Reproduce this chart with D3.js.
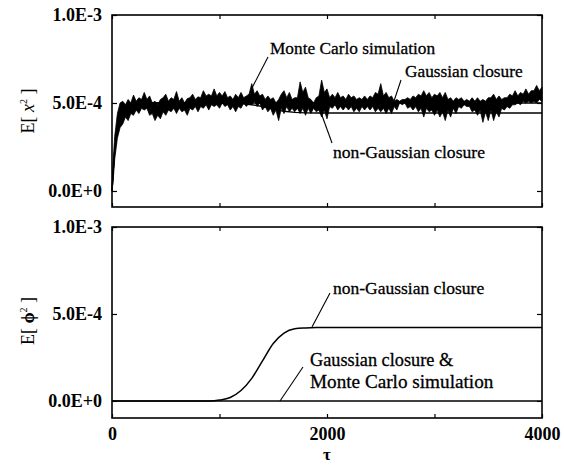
<!DOCTYPE html>
<html>
<head>
<meta charset="utf-8">
<script src="https://cdn.jsdelivr.net/npm/d3@7"></script>
<style>
  body { margin: 0; background: #fff; }
  svg text { font-family: "Liberation Serif", "Times New Roman", serif; fill: #000; }
  .tick text { font-weight: bold; font-size: 18px; }
  .note { stroke: #000; stroke-width: 0.3; }
</style>
</head>
<body>
<svg id="chart" width="564" height="466"></svg>
<script>
// values are in units of 1e-4
const tickTau = [0, 1000, 2000, 3000, 4000];
const tickTauLabels = ["0", "", "2000", "", "4000"];
const tickE = [0, 5, 10];
const tickELabels = ["0.0E+0", "5.0E-4", "1.0E-3"];

// Monte Carlo band (upper / lower envelope), top panel
const mcTau = [0, 10, 25, 50, 75, 100, 125, 150, 175, 200, 225, 250, 275, 300, 325, 350, 375, 400, 425, 450,
  475, 500, 525, 550, 575, 600, 625, 650, 675, 700, 725, 750, 775, 800, 825, 850, 875, 900, 925, 950,
  975, 1000, 1025, 1050, 1075, 1100, 1125, 1150, 1175, 1200, 1225, 1250, 1275, 1300, 1325, 1350, 1375, 1400,
  1425, 1450, 1475, 1500, 1525, 1550, 1575, 1600, 1625, 1650, 1675, 1700, 1725, 1750, 1775, 1800, 1825,
  1850, 1875, 1900, 1925, 1950, 1975, 2000, 2025, 2050, 2075, 2100, 2125, 2150, 2175, 2200, 2225, 2250,
  2275, 2300, 2325, 2350, 2375, 2400, 2425, 2450, 2475, 2500, 2525, 2550, 2575, 2600, 2625, 2650, 2675,
  2700, 2725, 2750, 2775, 2800, 2825, 2850, 2875, 2900, 2925, 2950, 2975, 3000, 3025, 3050, 3075, 3100,
  3125, 3150, 3175, 3200, 3225, 3250, 3275, 3300, 3325, 3350, 3375, 3400, 3425, 3450, 3475, 3500, 3525,
  3550, 3575, 3600, 3625, 3650, 3675, 3700, 3725, 3750, 3775, 3800, 3825, 3850, 3875, 3900, 3925, 3950,
  3975, 4000];
const mcHigh = [0, 1.6, 3.1, 4.4, 5.0, 5.1, 4.9, 5.2, 5.0, 5.45, 5.1, 5.3, 5.2, 5.6, 5.2, 5.4, 5.0, 5.1, 4.9, 5.2,
  5.3, 5.5, 5.1, 5.3, 5.2, 5.65, 5.1, 5.3, 5.0, 5.25, 5.3, 5.5, 5.2, 5.35, 5.3, 5.7, 5.4, 5.5, 5.4, 5.8,
  5.4, 5.6, 5.4, 5.65, 5.3, 5.4, 5.2, 5.5, 5.3, 5.6, 5.3, 5.4, 5.5, 6.1, 5.5, 5.7, 5.4, 5.5,
  5.2, 5.4, 5.2, 5.3, 5.0, 5.2, 5.5, 5.7, 5.3, 5.6, 5.2, 5.3, 5.3, 6.2, 5.6, 5.9, 5.3,
  5.2, 5.0, 5.3, 5.4, 6.3, 5.6, 5.8, 5.3, 5.5, 5.3, 5.6, 5.3, 5.4, 5.2, 5.5, 5.3, 5.4,
  5.2, 5.3, 5.2, 5.4, 5.2, 5.4, 5.3, 5.6, 5.5, 6.1, 5.4, 5.6, 5.3, 5.4, 5.1, 5.2, 5.1,
  5.2, 5.2, 5.3, 5.2, 5.4, 5.3, 5.5, 5.4, 5.7, 5.4, 5.6, 5.3, 5.5, 5.4, 5.6, 5.3, 5.6,
  5.2, 5.3, 5.1, 5.3, 5.2, 5.3, 5.1, 5.2, 5.1, 5.3, 5.1, 5.3, 5.1, 5.2, 5.1, 5.3, 5.3,
  5.5, 5.2, 5.4, 5.2, 5.3, 5.3, 5.5, 5.4, 5.7, 5.4, 5.6, 5.5, 5.8, 5.5, 5.7, 5.7, 6.0,
  5.7, 5.9];
const mcLow = [0, 0.5, 1.8, 3.0, 3.6, 3.8, 4.2, 4.0, 4.4, 4.3, 4.6, 4.4, 4.7, 4.6, 4.7, 4.3, 4.4, 4.0, 4.3, 4.1,
  4.5, 4.3, 4.6, 4.5, 4.7, 4.4, 4.7, 4.5, 4.6, 4.3, 4.7, 4.6, 4.8, 4.5, 4.8, 4.7, 4.9, 4.6, 4.9, 4.8,
  4.9, 4.7, 5.0, 4.8, 4.9, 4.6, 4.8, 4.5, 4.8, 4.7, 5.0, 4.8, 5.0, 4.9, 5.1, 4.8, 5.0, 4.6,
  4.8, 4.5, 4.7, 4.3, 4.6, 4.0, 4.7, 4.4, 4.8, 4.5, 4.7, 4.5, 4.7, 4.4, 4.7, 4.3, 4.7,
  4.4, 4.7, 4.5, 4.6, 4.2, 4.6, 4.1, 4.8, 4.7, 4.9, 4.6, 4.8, 4.6, 4.8, 4.6, 4.8, 4.5,
  4.7, 4.5, 4.8, 4.6, 4.8, 4.6, 4.8, 4.5, 4.7, 4.5, 4.7, 4.4, 4.7, 4.4, 4.8, 4.6, 5.0,
  4.9, 5.0, 4.7, 4.8, 4.6, 4.8, 4.5, 4.7, 4.2, 4.7, 4.5, 4.6, 4.3, 4.6, 4.2, 4.5, 4.0,
  4.6, 4.2, 4.7, 4.4, 4.8, 4.7, 4.9, 4.8, 4.8, 4.5, 4.6, 4.3, 4.6, 3.9, 4.5, 4.0, 4.6,
  4.0, 4.5, 4.2, 4.7, 4.6, 4.8, 4.7, 4.9, 4.9, 5.0, 4.9, 5.1, 5.0, 5.1, 5.0, 5.1, 5.0,
  5.2, 5.1];

// closures, top panel E[x^2]
const closTau = [0, 10, 25, 50, 75, 100, 150, 200, 300, 1000, 1200, 1300, 1400, 1500, 1600, 1700, 1800, 1900, 4000];
const gaussX = [0, 1.0, 2.3, 3.5, 4.1, 4.5, 4.8, 4.9, 5.0, 5.0, 5.0, 5.0, 5.0, 5.0, 5.0, 5.0, 5.0, 5.0, 5.0];
const nonGaussX = [0, 1.0, 2.3, 3.5, 4.1, 4.5, 4.8, 4.9, 5.0, 5.0, 4.97, 4.9, 4.8, 4.65, 4.53, 4.47, 4.44, 4.43, 4.43];

// bottom panel E[phi^2]
const phiTau = [0, 900, 1000, 1100, 1200, 1300, 1400, 1500, 1600, 1700, 1800, 1900, 4000];
const nonGaussPhi = [0, 0, 0.05, 0.2, 0.6, 1.3, 2.3, 3.3, 3.9, 4.15, 4.2, 4.22, 4.22];
const gaussPhi = [0, 0, 0, 0, 0, 0, 0, 0, 0, 0, 0, 0, 0];

const svg = d3.select("#chart");
const x = d3.scaleLinear().domain([0, 4000]).range([112, 542]);
const yTop = d3.scaleLinear().domain([-0.91, 10]).range([207, 15]);
const yBot = d3.scaleLinear().domain([-0.98, 10]).range([418, 227]);

function frame(y) {
  const r = y.range();
  // inward ticks on all four sides
  svg.append("g").attr("transform", `translate(0,${r[0]})`)
    .call(d3.axisBottom(x).tickValues(tickTau).tickSize(-4).tickFormat(""));
  svg.append("g").attr("transform", `translate(0,${r[1]})`)
    .call(d3.axisTop(x).tickValues(tickTau).tickSize(-4).tickFormat(""));
  svg.append("g").attr("transform", `translate(${x.range()[0]},0)`)
    .call(d3.axisLeft(y).tickValues(tickE).tickSize(-5).tickPadding(10)
      .tickFormat((d, i) => tickELabels[i]));
  svg.append("g").attr("transform", `translate(${x.range()[1]},0)`)
    .call(d3.axisRight(y).tickValues(tickE).tickSize(-5).tickFormat(""));
  svg.selectAll(".domain").remove();
  svg.selectAll(".tick line").attr("stroke", "#000").attr("stroke-width", 1.2);
  svg.append("rect")
    .attr("x", x.range()[0]).attr("y", r[1])
    .attr("width", x.range()[1] - x.range()[0]).attr("height", r[0] - r[1])
    .attr("fill", "none").attr("stroke", "#000").attr("stroke-width", 1.6);
}

frame(yTop);
frame(yBot);

// x tick labels under bottom panel
svg.append("g").attr("transform", "translate(0,418)")
  .call(d3.axisBottom(x).tickValues(tickTau).tickSize(0).tickPadding(9)
    .tickFormat((d, i) => tickTauLabels[i]))
  .call(g => g.select(".domain").remove());

// top panel curves
const mcArea = d3.area()
  .x((d, i) => x(mcTau[i]))
  .y0((d, i) => yTop(mcLow[i]))
  .y1((d, i) => yTop(mcHigh[i]));
svg.append("path").datum(mcTau).attr("d", mcArea)
  .attr("fill", "#000").attr("stroke", "#000").attr("stroke-width", 0.8);

const lineTop = ys => d3.line().x((d, i) => x(closTau[i])).y((d, i) => yTop(ys[i]))(closTau);
svg.append("path").attr("d", lineTop(gaussX)).attr("fill", "none").attr("stroke", "#000").attr("stroke-width", 1.3);
svg.append("path").attr("d", lineTop(nonGaussX)).attr("fill", "none").attr("stroke", "#000").attr("stroke-width", 1.3);

// bottom panel curves
const lineBot = ys => d3.line().curve(d3.curveMonotoneX)
  .x((d, i) => x(phiTau[i])).y((d, i) => yBot(ys[i]))(phiTau);
svg.append("path").attr("d", lineBot(gaussPhi)).attr("fill", "none").attr("stroke", "#000").attr("stroke-width", 1.5);
svg.append("path").attr("d", lineBot(nonGaussPhi)).attr("fill", "none").attr("stroke", "#000").attr("stroke-width", 1.5);

// annotations
function note(txt, tx, ty, size, l) {
  svg.append("text").attr("class", "note").attr("x", tx).attr("y", ty).attr("font-size", size).text(txt);
  if (l) svg.append("line").attr("x1", l[0]).attr("y1", l[1]).attr("x2", l[2]).attr("y2", l[3])
    .attr("stroke", "#000").attr("stroke-width", 1.1);
}
note("Monte Carlo simulation", 270, 54, 17.3, [268, 57, 252, 88]);
note("Gaussian closure", 405, 77, 17.3, [401, 80, 393, 104]);
note("non-Gaussian closure", 333, 158, 17.6, [332, 143, 320, 110]);
note("non-Gaussian closure", 333, 294, 17.5, [330, 293, 312, 327]);
note("Gaussian closure &", 310, 366, 18.3);
note("Monte Carlo simulation", 310, 388, 19.2, [303, 367, 280, 401]);

// axis titles
svg.append("text").attr("transform", "translate(34,111) rotate(-90)")
  .attr("text-anchor", "middle").attr("font-size", 18)
  .html('E[ <tspan font-style="italic">x</tspan><tspan font-size="10" dy="-7">2</tspan><tspan dy="7"> ]</tspan>');
svg.append("text").attr("transform", "translate(34,321) rotate(-90)")
  .attr("text-anchor", "middle").attr("font-size", 18)
  .html('E[ <tspan font-weight="bold">ϕ</tspan><tspan font-size="10" dy="-7">2</tspan><tspan dy="7"> ]</tspan>');
svg.append("text").attr("x", 327).attr("y", 460).attr("text-anchor", "middle")
  .attr("font-size", 17).attr("font-weight", "bold").text("τ");
</script>
</body>
</html>
